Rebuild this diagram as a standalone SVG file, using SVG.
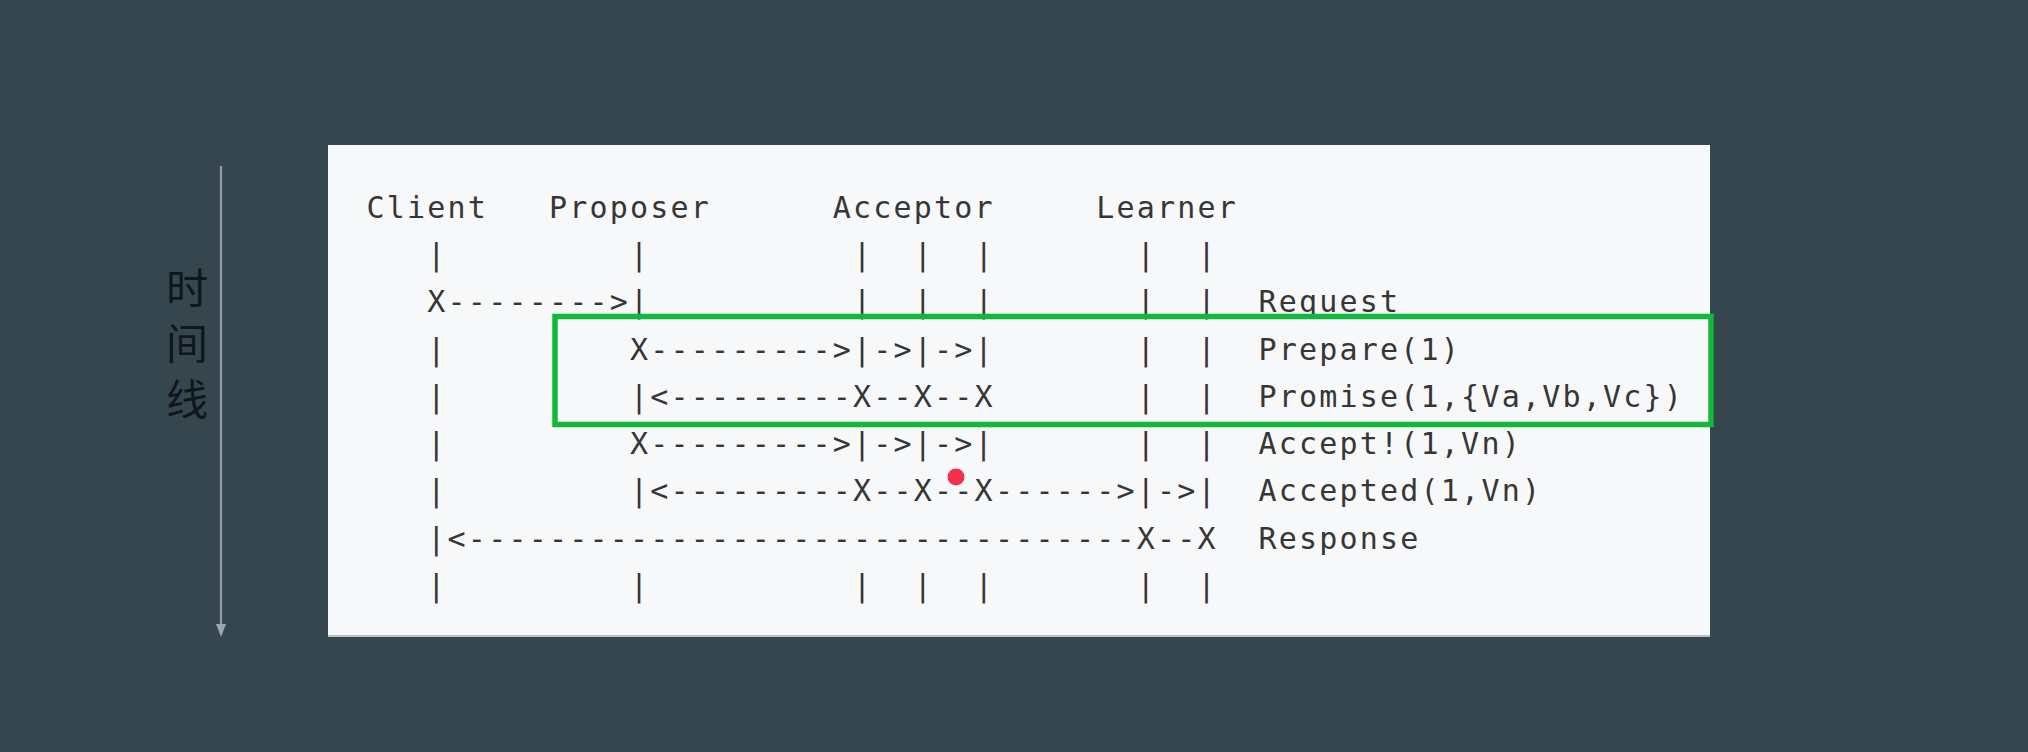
<svg xmlns="http://www.w3.org/2000/svg" width="2028" height="752" viewBox="0 0 2028 752">
<style>
.t{font-family:"DejaVu Sans Mono","Liberation Mono",monospace;font-size:30px;letter-spacing:2.21px;fill:#363636;white-space:pre}
.cjk{font-family:"Noto Sans CJK SC","Noto Sans",sans-serif;font-size:42px;fill:#0f161c;text-anchor:middle}
</style>
<rect width="2028" height="752" fill="#35464f"/>
<g id="timeline">
<line x1="221" y1="166" x2="221" y2="626" stroke="#8e9da7" stroke-width="2.2"/>
<polygon points="216,624 226,624 221,637" fill="#9aa8b1"/>
<text class="cjk"><tspan x="187" y="304">时</tspan><tspan x="187" y="359">间</tspan><tspan x="187" y="415">线</tspan></text>
</g>
<g id="panel">
<rect x="328" y="145" width="1382" height="492" fill="#f6f8f9"/>
<line x1="328" y1="636" x2="1710" y2="636" stroke="#b9c0c5" stroke-width="2"/>
</g>
<g id="node-client">
<text class="t"><tspan x="366.5" y="218">Client</tspan><tspan x="427.3" y="265">|</tspan><tspan x="427.3" y="312">X</tspan><tspan x="427.3" y="359.5">|</tspan><tspan x="427.3" y="407">|</tspan><tspan x="427.3" y="454">|</tspan><tspan x="427.3" y="501">|</tspan><tspan x="427.3" y="549">|</tspan><tspan x="427.3" y="596">|</tspan></text>
</g>
<g id="node-proposer">
<text class="t"><tspan x="548.9" y="218">Proposer</tspan><tspan x="630" y="265">|</tspan><tspan x="630" y="312">|</tspan><tspan x="630" y="359.5">X</tspan><tspan x="630" y="407">|</tspan><tspan x="630" y="454">X</tspan><tspan x="630" y="501">|</tspan><tspan x="630" y="596">|</tspan></text>
</g>
<g id="node-acceptor">
<text class="t"><tspan x="832.7" y="218">Acceptor</tspan><tspan x="853" y="265">|  |  |</tspan><tspan x="853" y="312">|  |  |</tspan><tspan x="853" y="359.5">|</tspan><tspan x="913.8" y="359.5">|</tspan><tspan x="974.6" y="359.5">|</tspan><tspan x="853" y="407">X</tspan><tspan x="913.8" y="407">X</tspan><tspan x="974.6" y="407">X</tspan><tspan x="853" y="454">|</tspan><tspan x="913.8" y="454">|</tspan><tspan x="974.6" y="454">|</tspan><tspan x="853" y="501">X</tspan><tspan x="913.8" y="501">X</tspan><tspan x="974.6" y="501">X</tspan><tspan x="853" y="596">|  |  |</tspan></text>
</g>
<g id="node-learner">
<text class="t"><tspan x="1096.2" y="218">Learner</tspan><tspan x="1136.8" y="265">|  |</tspan><tspan x="1136.8" y="312">|  |</tspan><tspan x="1136.8" y="359.5">|  |</tspan><tspan x="1136.8" y="407">|  |</tspan><tspan x="1136.8" y="454">|  |</tspan><tspan x="1136.8" y="501">|</tspan><tspan x="1197.6" y="501">|</tspan><tspan x="1136.8" y="549">X</tspan><tspan x="1197.6" y="549">X</tspan><tspan x="1136.8" y="596">|  |</tspan></text>
</g>
<g id="connectors">
<text class="t"><tspan x="447.6" y="312">--------&gt;</tspan><tspan x="650.3" y="359.5">---------&gt;</tspan><tspan x="873.3" y="359.5">-&gt;</tspan><tspan x="934.1" y="359.5">-&gt;</tspan><tspan x="650.3" y="407">&lt;---------</tspan><tspan x="873.3" y="407">--</tspan><tspan x="934.1" y="407">--</tspan><tspan x="650.3" y="454">---------&gt;</tspan><tspan x="873.3" y="454">-&gt;</tspan><tspan x="934.1" y="454">-&gt;</tspan><tspan x="650.3" y="501">&lt;---------</tspan><tspan x="873.3" y="501">--</tspan><tspan x="934.1" y="501">--</tspan><tspan x="994.9" y="501">------&gt;</tspan><tspan x="1157" y="501">-&gt;</tspan><tspan x="447.6" y="549">&lt;---------------------------------</tspan><tspan x="1157" y="549">--</tspan></text>
</g>
<g id="messages">
<text class="t"><tspan x="1258.4" y="312">Request</tspan><tspan x="1258.4" y="359.5">Prepare(1)</tspan><tspan x="1258.4" y="407">Promise(1,{Va,Vb,Vc})</tspan><tspan x="1258.4" y="454">Accept!(1,Vn)</tspan><tspan x="1258.4" y="501">Accepted(1,Vn)</tspan><tspan x="1258.4" y="549">Response</tspan></text>
</g>
<g id="highlight">
<rect x="555" y="316.5" width="1156" height="108" fill="none" stroke="#12b83b" stroke-width="5.5"/>
</g>
<circle id="pointer" cx="956" cy="477" r="8.5" fill="#f2304d"/>
</svg>
